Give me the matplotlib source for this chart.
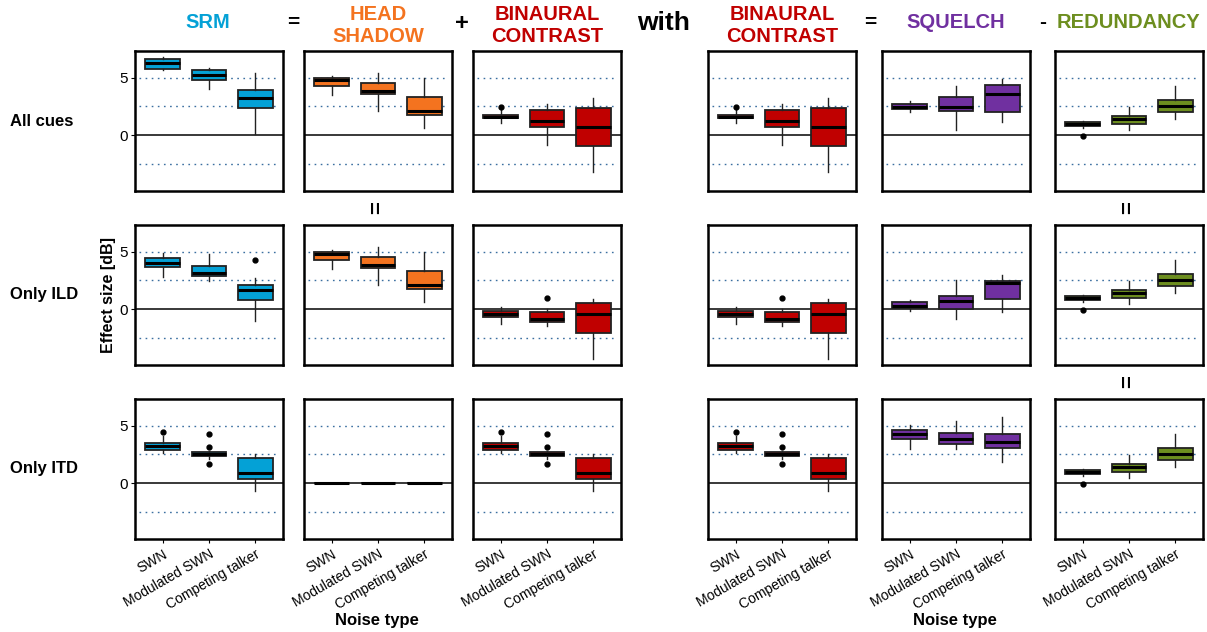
import numpy as np
import matplotlib.pyplot as plt

plt.rcParams['font.family'] = ['Liberation Sans', 'DejaVu Sans']

# noise types on the x axis, rows of the grid
noise_types = ["SWN", "Modulated SWN", "Competing talker"]
row_labels = ["All cues", "Only ILD", "Only ITD"]

# box stats per noise type: (whisker low, q1, median, q3, whisker high)
srm_all = [(5.66, 5.78, 6.27, 6.62, 6.79), (3.99, 4.83, 5.20, 5.69, 5.84), (0.09, 2.34, 3.27, 3.90, 5.43)]
srm_ild = [(2.83, 3.64, 3.99, 4.48, 4.91), (2.49, 2.86, 3.18, 3.73, 4.77), (-1.01, 0.78, 1.68, 2.08, 2.69)]
srm_itd = [(2.63, 2.92, 3.21, 3.50, 4.08), (2.14, 2.40, 2.57, 2.75, 2.80), (-0.66, 0.35, 0.92, 2.17, 2.57)]
head_shadow = [(3.50, 4.25, 4.83, 4.99, 5.12), (2.11, 3.55, 3.84, 4.57, 5.43), (0.64, 1.73, 2.14, 3.33, 4.94)]
head_shadow_itd = [(0, 0, 0, 0, 0), (0, 0, 0, 0, 0), (0, 0, 0, 0, 0)]
bc_all = [(1.04, 1.48, 1.62, 1.74, 2.25), (-0.84, 0.75, 1.27, 2.17, 2.69), (-3.18, -0.92, 0.75, 2.40, 3.27)]
bc_ild = [(-1.30, -0.64, -0.40, -0.17, 0.17), (-1.47, -1.07, -0.81, -0.26, 0.06), (-4.28, -2.08, -0.38, 0.58, 0.87)]
bc_itd = [(2.63, 2.92, 3.21, 3.50, 4.08), (2.14, 2.40, 2.57, 2.75, 2.80), (-0.66, 0.35, 0.92, 2.17, 2.57)]
squelch_all = [(2.02, 2.28, 2.49, 2.75, 2.98), (0.49, 2.14, 2.49, 3.35, 4.31), (1.16, 2.02, 3.61, 4.39, 4.91)]
squelch_ild = [(-0.14, 0.09, 0.32, 0.61, 0.78), (-0.81, 0.03, 0.75, 1.13, 2.51), (-0.20, 0.90, 2.31, 2.46, 2.98)]
squelch_itd = [(2.98, 3.82, 4.31, 4.62, 5.09), (3.01, 3.41, 3.87, 4.39, 5.43), (1.82, 3.03, 3.58, 4.31, 5.75)]
redundancy = [(0.64, 0.81, 0.98, 1.13, 1.21), (0.49, 1.01, 1.39, 1.68, 2.46), (1.42, 2.05, 2.54, 3.06, 4.28)]

# outliers
no_fliers = [[], [], []]
srm_ild_fl = [[], [], [4.25]]
itd_fl = [[4.48], [4.25, 3.18, 1.68], []]
bc_all_fl = [[2.43], [], []]
bc_ild_fl = [[], [0.95], []]
redundancy_fl = [[-0.09], [], []]

c_srm = "#04A1D6"
c_hs = "#F4731F"
c_bc = "#C00000"
c_sq = "#7030A0"
c_red = "#6D8E1F"

grid = [
    [(srm_all, no_fliers, c_srm), (head_shadow, no_fliers, c_hs), (bc_all, bc_all_fl, c_bc),
     (bc_all, bc_all_fl, c_bc), (squelch_all, no_fliers, c_sq), (redundancy, redundancy_fl, c_red)],
    [(srm_ild, srm_ild_fl, c_srm), (head_shadow, no_fliers, c_hs), (bc_ild, bc_ild_fl, c_bc),
     (bc_ild, bc_ild_fl, c_bc), (squelch_ild, no_fliers, c_sq), (redundancy, redundancy_fl, c_red)],
    [(srm_itd, itd_fl, c_srm), (head_shadow_itd, no_fliers, c_hs), (bc_itd, itd_fl, c_bc),
     (bc_itd, itd_fl, c_bc), (squelch_itd, no_fliers, c_sq), (redundancy, redundancy_fl, c_red)],
]

W, H = 1207, 632
fig = plt.figure(figsize=(W / 100, H / 100), dpi=100)

lefts = [135, 304, 473, 708, 882, 1055]
tops = [51, 225, 399]
pw, ph = 148, 140


def fx(x):
    return x / W


def fy(y):
    return 1 - y / H


for r, row in enumerate(grid):
    for c, (stats, fliers, color) in enumerate(row):
        ax = fig.add_axes([fx(lefts[c]), fy(tops[r] + ph), pw / W, ph / H])
        for v in (5, 2.5, -2.5):
            ax.axhline(v, xmin=0.03, xmax=0.97, color="#3B6FA0", linestyle=(0, (1.2, 3.2)),
                       linewidth=1.0, zorder=1)
        ax.axhline(0, color="#2a2a2a", linewidth=1.3, zorder=1)
        bstats = []
        for (lo, q1, med, q3, hi), fl in zip(stats, fliers):
            bstats.append(dict(whislo=lo, q1=q1, med=med, q3=q3, whishi=hi, fliers=fl))
        ax.bxp(bstats, positions=[1, 2, 3], widths=0.75, patch_artist=True, showcaps=False,
               boxprops=dict(facecolor=color, edgecolor="#222222", linewidth=1.3),
               medianprops=dict(color="black", linewidth=2.2),
               whiskerprops=dict(color="#222222", linewidth=1.0),
               flierprops=dict(marker="o", markerfacecolor="black", markeredgecolor="black",
                               markersize=3.5))
        ax.set_xlim(0.4, 3.6)
        ax.set_ylim(-4.83, 7.3)
        for s in ax.spines.values():
            s.set_linewidth(1.8)
            s.set_color("black")
        ax.set_yticks([0, 5])
        if c == 0:
            ax.set_yticklabels(["0", "5"], fontsize=11)
            ax.tick_params(axis="y", length=3, pad=2)
        else:
            ax.set_yticklabels([])
            ax.tick_params(axis="y", length=0)
        ax.set_xticks([1, 2, 3])
        if r == 2:
            ax.set_xticklabels(noise_types, rotation=30, ha="right", rotation_mode="anchor",
                               fontsize=10)
            ax.tick_params(axis="x", length=3, pad=3)
        else:
            ax.set_xticklabels([])
            ax.tick_params(axis="x", length=0)

# row labels
for r, lab in enumerate(row_labels):
    fig.text(fx(10), fy(tops[r] + ph / 2), lab, fontsize=12, fontweight="bold",
             ha="left", va="center")

fig.text(fx(108), fy(tops[1] + ph / 2), "Effect size [dB]", fontsize=11.5, fontweight="bold",
         rotation=90, ha="center", va="center")

# header equation
hdr = [
    (208, 22, "SRM", c_srm, 14.5),
    (293, 22, "=", "black", 15),
    (378, 25, "HEAD\nSHADOW", c_hs, 14.5),
    (462, 24, "+", "black", 17),
    (547, 25, "BINAURAL\nCONTRAST", c_bc, 14.5),
    (664, 23, "with", "black", 19),
    (782, 25, "BINAURAL\nCONTRAST", c_bc, 14.5),
    (870, 22, "=", "black", 15),
    (956, 22, "SQUELCH", c_sq, 14.5),
    (1043, 22, "-", "black", 15),
    (1128, 22, "REDUNDANCY", c_red, 14.5),
]
for x, y, t, col, fs in hdr:
    fig.text(fx(x), fy(y), t, color=col, fontsize=fs, fontweight="bold",
             ha="center", va="center", linespacing=1.2)

# equality signs between rows
for x, y in [(378, 208), (1129, 208), (1129, 382)]:
    fig.text(fx(x), fy(y), "=", fontsize=16, fontweight="bold", rotation=90,
             ha="center", va="center")

fig.text(fx(377), fy(620), "Noise type", fontsize=12, fontweight="bold", ha="center", va="center")
fig.text(fx(955), fy(620), "Noise type", fontsize=12, fontweight="bold", ha="center", va="center")

fig.savefig("out.png", dpi=100)
